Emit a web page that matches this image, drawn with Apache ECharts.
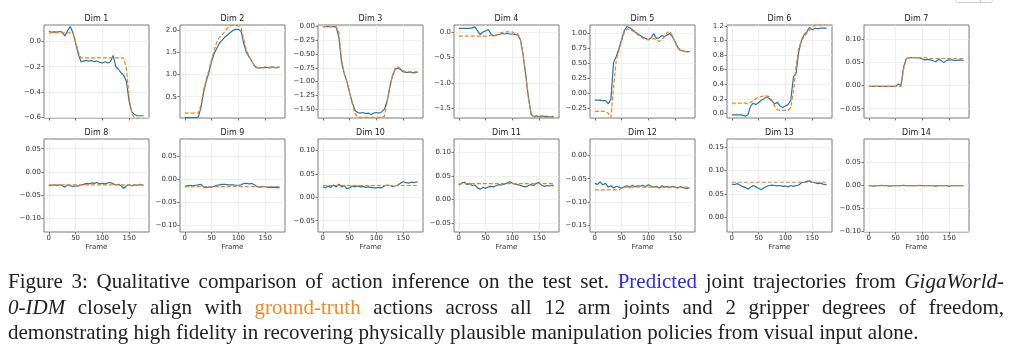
<!DOCTYPE html>
<html><head><meta charset="utf-8">
<script src="https://cdn.jsdelivr.net/npm/echarts@6/dist/echarts.min.js"></script>
<style>html,body{margin:0;padding:0;background:#fff;}#c{width:1024px;height:363px;}</style>
</head><body><div id="c"></div>
<script>
const frames = [0,5,10,15,20,25,30,35,40,45,50,55,60,65,70,75,80,85,90,95,100,105,110,115,120,125,130,135,140,145,150,155,160,165,170,175,177];
const xTicks = [0,50,100,150];
const dimNames = ['Dim 1','Dim 2','Dim 3','Dim 4','Dim 5','Dim 6','Dim 7','Dim 8','Dim 9','Dim 10','Dim 11','Dim 12','Dim 13','Dim 14'];

const pred1 = [0.08,0.075,0.078,0.075,0.08,0.075,0.045,0.085,0.12,0.07,-0.01,-0.1,-0.16,-0.155,-0.15,-0.155,-0.15,-0.16,-0.155,-0.165,-0.17,-0.16,-0.17,-0.16,-0.11,-0.2,-0.22,-0.25,-0.27,-0.32,-0.48,-0.56,-0.58,-0.59,-0.59,-0.59,-0.59];
const gt1   = [0.07,0.07,0.07,0.07,0.07,0.07,0.07,0.07,0.07,0.065,0.0,-0.08,-0.13,-0.13,-0.13,-0.13,-0.13,-0.13,-0.13,-0.13,-0.13,-0.13,-0.13,-0.13,-0.13,-0.13,-0.13,-0.13,-0.13,-0.22,-0.45,-0.57,-0.61,-0.61,-0.61,-0.61,-0.61];
const pred2 = [0.03,0.03,0.03,0.03,0.03,0.04,0.25,0.6,0.85,1.05,1.3,1.48,1.6,1.72,1.78,1.85,1.9,1.95,2.0,2.02,2.02,1.98,1.7,1.5,1.4,1.3,1.2,1.15,1.15,1.16,1.17,1.16,1.17,1.17,1.16,1.17,1.17];
const gt2   = [0.13,0.13,0.13,0.13,0.13,0.13,0.3,0.65,0.9,1.1,1.35,1.55,1.75,1.85,1.9,1.98,2.05,2.1,2.12,2.12,2.1,2.05,1.8,1.55,1.42,1.3,1.2,1.16,1.15,1.15,1.15,1.15,1.15,1.15,1.15,1.15,1.15];
const pred3 = [0,0,0,0,0,-0.01,-0.2,-0.65,-0.85,-1.0,-1.2,-1.38,-1.52,-1.56,-1.57,-1.56,-1.58,-1.57,-1.6,-1.57,-1.56,-1.57,-1.55,-1.5,-1.35,-1.1,-0.9,-0.78,-0.75,-0.78,-0.82,-0.83,-0.83,-0.83,-0.84,-0.83,-0.83];
const gt3   = [0,0,0,0,0,0,-0.1,-0.6,-0.85,-1.0,-1.2,-1.4,-1.58,-1.64,-1.65,-1.65,-1.65,-1.65,-1.65,-1.65,-1.65,-1.65,-1.65,-1.63,-1.38,-1.1,-0.88,-0.76,-0.73,-0.76,-0.8,-0.82,-0.82,-0.82,-0.82,-0.82,-0.82];
const pred4 = [0.07,0.07,0.07,0.07,0.07,0.08,0.1,0.02,-0.05,0.0,0.02,0.05,-0.04,-0.08,-0.06,-0.05,-0.03,-0.04,-0.03,-0.04,-0.04,-0.05,-0.06,-0.15,-0.45,-0.85,-1.3,-1.62,-1.66,-1.65,-1.66,-1.65,-1.66,-1.66,-1.67,-1.66,-1.66];
const gt4   = [-0.08,-0.08,-0.08,-0.08,-0.08,-0.08,-0.08,-0.08,-0.08,-0.08,-0.08,-0.08,-0.06,-0.05,-0.07,-0.04,-0.01,0.0,0.0,0.0,0.0,-0.03,-0.03,-0.15,-0.45,-0.85,-1.3,-1.6,-1.67,-1.68,-1.67,-1.68,-1.67,-1.68,-1.67,-1.68,-1.68];
const pred5 = [-0.11,-0.11,-0.11,-0.12,-0.12,-0.17,-0.1,0.52,0.62,0.75,0.9,1.05,1.12,1.1,1.07,1.03,1.0,0.97,0.94,0.92,0.9,0.93,1.0,0.92,0.93,0.97,0.95,0.98,1.0,0.95,0.86,0.77,0.72,0.71,0.7,0.7,0.7];
const gt5   = [-0.3,-0.3,-0.3,-0.3,-0.3,-0.33,-0.4,0.1,0.55,0.72,0.88,1.02,1.08,1.07,1.05,1.02,0.98,0.95,0.92,0.9,0.9,0.9,0.92,0.9,0.87,0.9,0.95,1.02,1.04,0.97,0.85,0.75,0.72,0.71,0.7,0.7,0.7];
const pred6 = [-0.02,-0.02,-0.02,-0.02,-0.025,-0.04,-0.02,0.1,0.14,0.12,0.15,0.18,0.2,0.23,0.2,0.17,0.13,0.15,0.1,0.08,0.1,0.12,0.18,0.5,0.55,0.85,1.0,1.08,1.12,1.18,1.15,1.17,1.16,1.17,1.17,1.17,1.17];
const gt6   = [0.14,0.14,0.14,0.14,0.14,0.14,0.13,0.15,0.18,0.2,0.22,0.23,0.24,0.24,0.23,0.18,0.1,0.05,0.04,0.04,0.04,0.04,0.08,0.3,0.65,0.9,1.0,1.05,1.1,1.14,1.19,1.21,1.22,1.22,1.22,1.22,1.22];
const pred7 = [-0.002,-0.002,-0.002,-0.002,-0.002,-0.002,-0.002,-0.002,-0.002,-0.002,-0.002,0.003,0.0,0.04,0.058,0.059,0.06,0.06,0.059,0.059,0.057,0.055,0.056,0.055,0.053,0.051,0.056,0.054,0.049,0.054,0.055,0.055,0.054,0.054,0.055,0.054,0.054];
const gt7   = [-0.002,-0.002,-0.002,-0.002,-0.002,-0.002,-0.002,-0.002,-0.002,-0.002,-0.002,-0.002,-0.002,0.035,0.058,0.06,0.06,0.06,0.06,0.06,0.06,0.06,0.058,0.058,0.058,0.058,0.058,0.058,0.058,0.058,0.058,0.058,0.058,0.058,0.058,0.058,0.058];
const pred8 = [-0.029,-0.03,-0.028,-0.03,-0.028,-0.03,-0.033,-0.028,-0.03,-0.032,-0.03,-0.031,-0.028,-0.027,-0.025,-0.026,-0.024,-0.025,-0.023,-0.026,-0.025,-0.026,-0.024,-0.023,-0.026,-0.028,-0.027,-0.03,-0.036,-0.03,-0.028,-0.03,-0.028,-0.029,-0.027,-0.029,-0.028];
const gt8   = [-0.028,-0.028,-0.028,-0.028,-0.028,-0.028,-0.028,-0.028,-0.028,-0.028,-0.028,-0.028,-0.028,-0.028,-0.028,-0.028,-0.028,-0.028,-0.028,-0.028,-0.028,-0.028,-0.028,-0.028,-0.028,-0.028,-0.028,-0.028,-0.028,-0.028,-0.028,-0.028,-0.028,-0.028,-0.028,-0.028,-0.028];
const pred9 = [-0.015,-0.014,-0.013,-0.014,-0.013,-0.012,-0.011,-0.017,-0.018,-0.017,-0.017,-0.015,-0.013,-0.012,-0.011,-0.011,-0.012,-0.012,-0.012,-0.013,-0.013,-0.012,-0.009,-0.009,-0.01,-0.009,-0.012,-0.016,-0.017,-0.016,-0.016,-0.017,-0.018,-0.017,-0.018,-0.018,-0.017];
const gt9   = [-0.016,-0.016,-0.016,-0.016,-0.016,-0.016,-0.016,-0.016,-0.016,-0.016,-0.016,-0.016,-0.016,-0.016,-0.016,-0.016,-0.016,-0.016,-0.016,-0.016,-0.016,-0.016,-0.016,-0.016,-0.016,-0.016,-0.016,-0.016,-0.016,-0.016,-0.016,-0.016,-0.016,-0.016,-0.016,-0.016,-0.016];
const pred10 = [0.022,0.02,0.024,0.021,0.026,0.022,0.028,0.022,0.025,0.018,0.02,0.024,0.022,0.024,0.022,0.023,0.021,0.022,0.021,0.02,0.02,0.021,0.02,0.024,0.026,0.025,0.023,0.024,0.026,0.03,0.033,0.031,0.03,0.032,0.031,0.033,0.032];
const gt10  = [0.025,0.025,0.025,0.025,0.025,0.025,0.025,0.025,0.025,0.025,0.025,0.025,0.025,0.025,0.025,0.025,0.025,0.025,0.025,0.025,0.025,0.025,0.025,0.025,0.025,0.025,0.025,0.025,0.025,0.025,0.025,0.025,0.025,0.025,0.025,0.025,0.025];
const pred11 = [0.031,0.035,0.037,0.032,0.034,0.03,0.031,0.025,0.022,0.026,0.024,0.027,0.028,0.027,0.03,0.032,0.031,0.033,0.035,0.038,0.035,0.033,0.032,0.03,0.028,0.027,0.03,0.032,0.03,0.035,0.036,0.03,0.028,0.03,0.029,0.031,0.028];
const gt11  = [0.034,0.034,0.034,0.034,0.034,0.034,0.034,0.034,0.034,0.034,0.034,0.034,0.034,0.034,0.034,0.034,0.034,0.034,0.034,0.034,0.034,0.034,0.034,0.034,0.034,0.034,0.034,0.034,0.034,0.034,0.034,0.034,0.034,0.034,0.034,0.034,0.034];
const pred12 = [-0.06,-0.062,-0.057,-0.063,-0.06,-0.068,-0.065,-0.07,-0.066,-0.068,-0.07,-0.067,-0.065,-0.068,-0.064,-0.067,-0.065,-0.066,-0.064,-0.067,-0.063,-0.066,-0.068,-0.066,-0.07,-0.065,-0.068,-0.066,-0.069,-0.066,-0.068,-0.07,-0.067,-0.069,-0.071,-0.07,-0.069];
const gt12  = [-0.074,-0.074,-0.074,-0.074,-0.074,-0.074,-0.074,-0.074,-0.074,-0.074,-0.071,-0.068,-0.068,-0.068,-0.068,-0.068,-0.068,-0.068,-0.068,-0.068,-0.068,-0.068,-0.068,-0.068,-0.068,-0.068,-0.068,-0.068,-0.068,-0.068,-0.068,-0.068,-0.068,-0.068,-0.068,-0.068,-0.068];
const pred13 = [0.071,0.07,0.072,0.069,0.066,0.064,0.06,0.064,0.068,0.065,0.062,0.059,0.063,0.066,0.068,0.069,0.068,0.067,0.068,0.066,0.067,0.065,0.068,0.066,0.068,0.069,0.074,0.075,0.077,0.078,0.075,0.074,0.072,0.073,0.071,0.07,0.069];
const gt13  = [0.075,0.075,0.075,0.075,0.075,0.075,0.075,0.075,0.075,0.075,0.075,0.075,0.075,0.075,0.075,0.075,0.075,0.075,0.075,0.075,0.075,0.075,0.075,0.075,0.075,0.075,0.075,0.075,0.075,0.075,0.075,0.075,0.075,0.075,0.075,0.075,0.075];
const pred14 = [-0.001,-0.001,-0.002,-0.001,-0.001,0.0,-0.001,-0.001,-0.002,-0.001,-0.001,-0.001,-0.001,0.0,-0.001,-0.001,-0.001,-0.001,-0.001,0.0,-0.001,-0.001,-0.001,-0.001,-0.001,-0.002,-0.001,-0.001,-0.001,-0.001,-0.002,-0.001,-0.001,-0.001,-0.001,-0.001,-0.001];
const gt14  = [-0.001,-0.001,-0.001,-0.001,-0.001,-0.001,-0.001,-0.001,-0.001,-0.001,-0.001,-0.001,-0.001,-0.001,-0.001,-0.001,-0.001,-0.001,-0.001,-0.001,-0.001,-0.001,-0.001,-0.001,-0.001,-0.001,-0.001,-0.001,-0.001,-0.001,-0.001,-0.001,-0.001,-0.001,-0.001,-0.001,-0.001];

const predSeries = [pred1,pred2,pred3,pred4,pred5,pred6,pred7,pred8,pred9,pred10,pred11,pred12,pred13,pred14];
const gtSeries = [gt1,gt2,gt3,gt4,gt5,gt6,gt7,gt8,gt9,gt10,gt11,gt12,gt13,gt14];

const yMins = [-0.608,0.02,-1.66,-1.69,-0.41,-0.064,-0.07,-0.13,-0.114,-0.074,-0.069,-0.164,-0.032,-0.101];
const yMaxs = [0.132,2.12,0.03,0.137,1.145,1.214,0.13,0.071,0.087,0.124,0.129,0.035,0.168,0.1];
const yTicks = [
  [-0.6,-0.4,-0.2,0.0],
  [0.5,1.0,1.5,2.0],
  [-1.5,-1.25,-1.0,-0.75,-0.5,-0.25,0.0],
  [-1.5,-1.0,-0.5,0.0],
  [-0.25,0.0,0.25,0.5,0.75,1.0],
  [0.0,0.2,0.4,0.6,0.8,1.0,1.2],
  [-0.05,0.0,0.05,0.1],
  [-0.1,-0.05,0.0,0.05],
  [-0.1,-0.05,0.0,0.05],
  [-0.05,0.0,0.05,0.1],
  [-0.05,0.0,0.05,0.1],
  [-0.15,-0.1,-0.05,0.0],
  [0.0,0.05,0.1,0.15],
  [-0.1,-0.05,0.0,0.05]
];
const yDecimals = [1,1,2,1,2,1,2,2,2,2,2,2,2,2];

// caption text (segments: n = normal, b = blue, o = orange, i = italic)
const captionLines = [
  [['n','Figure 3: Qualitative comparison of action inference on the test set.'],['b','Predicted'],['n','joint trajectories from'],['i','GigaWorld-']],
  [['i','0-IDM'],['n','closely align with'],['o','ground-truth'],['n','actions across all 12 arm joints and 2 gripper degrees of freedom,']],
  [['n','demonstrating high fidelity in recovering physically plausible manipulation policies from visual input alone.']]
];

// layout
const colLefts = [44,180,318,454,590,727,864];
const rowTops = [25,139];
const gW = 105, gH = 93;

function fmt(v, d){
  const s = Math.abs(v).toFixed(d);
  return (v < 0 && parseFloat(s) !== 0 ? '\u2212' : '') + s;
}

const grids=[], xAxes=[], yAxes=[], series=[], graphics=[];
const tickFont = 'DejaVu Sans';
for (let i=0;i<14;i++){
  const r = Math.floor(i/7), c = i%7;
  grids.push({left: colLefts[c], top: rowTops[r], width: gW, height: gH, show:true,
    borderColor:'#7a7a7a', borderWidth:1, backgroundColor:'rgba(0,0,0,0)'});
  xAxes.push({type:'value', gridIndex:i, min:-9, max:187, position:'bottom',
    name: r===1 ? 'Frame' : '', nameLocation:'middle', nameGap:12,
    nameTextStyle:{fontSize:7, color:'#333', fontFamily:tickFont},
    axisLine:{show:false, onZero:false},
    axisTick:{show:true, length:2.5, customValues:xTicks, lineStyle:{color:'#555', width:0.8}},
    axisLabel:{show: r===1, customValues:xTicks, fontSize:7, color:'#333', margin:3, fontFamily:tickFont},
    splitLine:{show:true, lineStyle:{color:'#ebebeb', width:0.8}}
  });
  const d = yDecimals[i];
  yAxes.push({type:'value', gridIndex:i, min:yMins[i], max:yMaxs[i], position:'left',
    axisLine:{show:false, onZero:false},
    axisTick:{show:true, length:2.5, customValues:yTicks[i], lineStyle:{color:'#555', width:0.8}},
    axisLabel:{show:true, customValues:yTicks[i], fontSize:7, color:'#333', margin:3, fontFamily:tickFont,
      formatter: v => fmt(v, d)},
    splitLine:{show:true, lineStyle:{color:'#ebebeb', width:0.8}}
  });
  series.push({type:'line', xAxisIndex:i, yAxisIndex:i, showSymbol:false, symbol:'none', silent:true,
    data: frames.map((f,k)=>[f, predSeries[i][k]]),
    lineStyle:{color:'#1f77b4', width:1.2}, itemStyle:{color:'#1f77b4'}});
  series.push({type:'line', xAxisIndex:i, yAxisIndex:i, showSymbol:false, symbol:'none', silent:true,
    data: frames.map((f,k)=>[f, gtSeries[i][k]]),
    lineStyle:{color:'#ff7f0e', width:1.2, type:[4,2]}, itemStyle:{color:'#ff7f0e'}});
  graphics.push({type:'text', x: colLefts[c] + gW/2, y: rowTops[r] - 6,
    style:{text: dimNames[i], fontSize:8, fontFamily:tickFont, fill:'#222', align:'center', verticalAlign:'middle'}});
}

// caption, justified like the typeset original
const capFont = 'Liberation Serif';
const capSize = 21;
const capColors = {n:'#222', i:'#222', b:'#2b2bff', o:'#f08a24'};
const capY = [282, 308, 333];
const capLeft = 8, capRight = 1004;
const justify = [true, true, false];
const ctx = document.createElement('canvas').getContext('2d');
function measure(word, st){
  ctx.font = (st==='i' ? 'italic ' : '') + capSize + 'px "' + capFont + '"';
  return ctx.measureText(word).width;
}
captionLines.forEach((segs, k) => {
  const toks = [];
  segs.forEach(([st, txt]) => txt.split(' ').forEach(w => toks.push({w, st, width: measure(w, st)})));
  const sumW = toks.reduce((a,t)=>a+t.width, 0);
  const gap = justify[k] ? (capRight - capLeft - sumW) / (toks.length - 1) : measure(' ', 'n');
  let x = capLeft;
  toks.forEach(t => {
    graphics.push({type:'text', x: x, y: capY[k],
      style:{text: t.w, fontSize:capSize, fontFamily:capFont, fontStyle: t.st==='i' ? 'italic' : 'normal',
        fill: capColors[t.st], align:'left', verticalAlign:'middle'}});
    x += t.width + gap;
  });
});
// small cut-off widget at the top edge
graphics.push({type:'rect', shape:{x:955.5, y:-6, width:37, height:8.5, r:2}, style:{fill:'#fff', stroke:'#cfcfcf', lineWidth:1}});
graphics.push({type:'line', shape:{x1:980.5, y1:0, x2:980.5, y2:2.5}, style:{stroke:'#cfcfcf', lineWidth:1}});

const chart = echarts.init(document.getElementById('c'), null, {renderer:'canvas'});
chart.setOption({
  animation:false,
  backgroundColor:'#fff',
  grid: grids, xAxis: xAxes, yAxis: yAxes, series: series,
  graphic: graphics
});
</script>
</body></html>
